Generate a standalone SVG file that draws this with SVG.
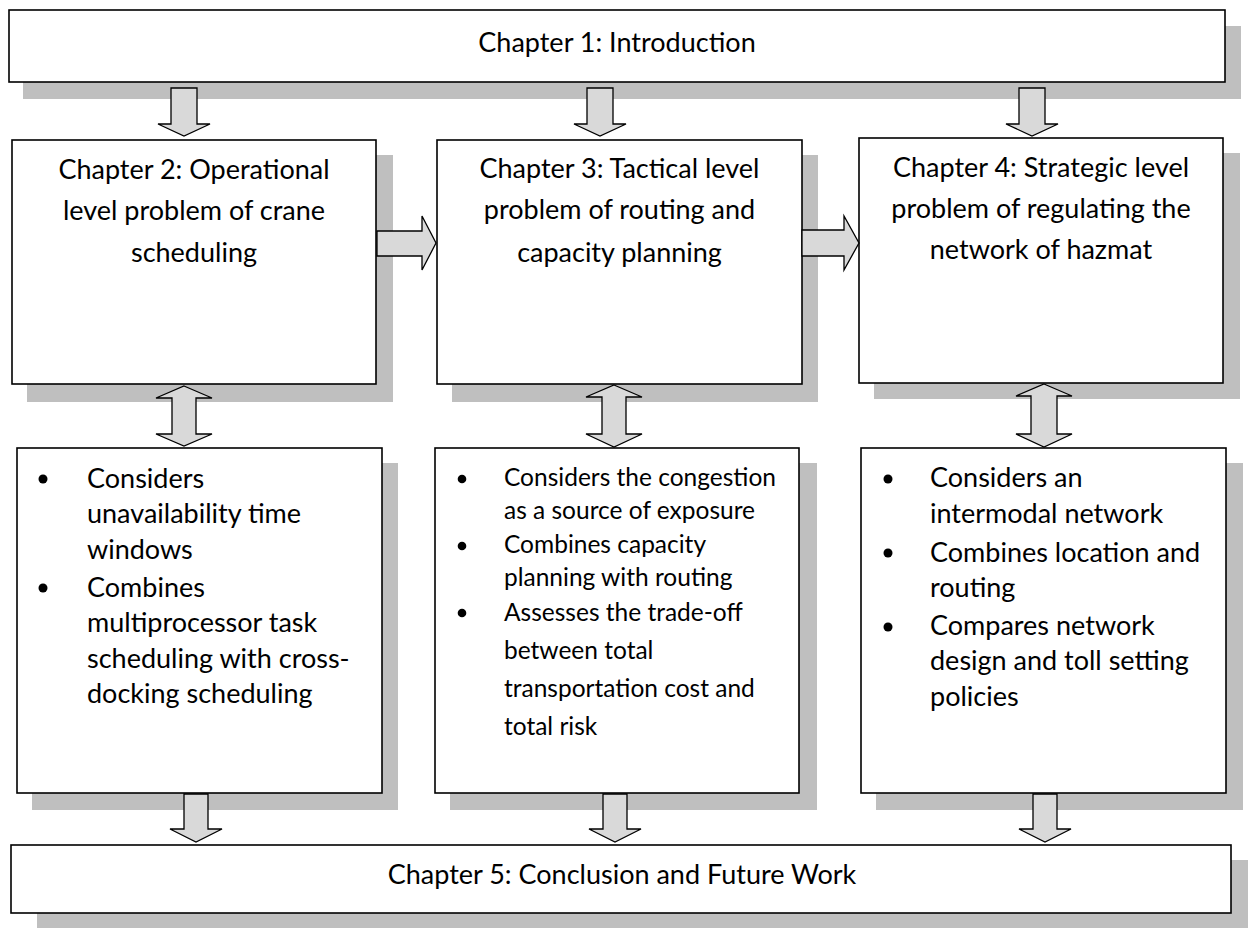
<svg xmlns="http://www.w3.org/2000/svg" width="1250" height="931" viewBox="0 0 1250 931">
  <style>
    .shadow { fill: #bfbfbf; }
    .box { fill: #ffffff; stroke: #000000; stroke-width: 1.6; }
    .arrow { fill: #d9d9d9; stroke: #000000; stroke-width: 1.3; stroke-linejoin: miter; }
    .title { font-family: Lato, "Liberation Sans", sans-serif; font-size: 27px; fill: #000; text-anchor: middle; }
    .item { font-family: Lato, "Liberation Sans", sans-serif; font-size: 27px; fill: #000; }
    .item-sm { font-family: Lato, "Liberation Sans", sans-serif; font-size: 24.5px; fill: #000; }
    .dot { fill: #000; }
  </style>
  <rect width="1250" height="931" fill="#ffffff"/>

  <!-- Chapter 1 -->
  <g id="ch1">
    <rect class="shadow" x="23" y="26" width="1218" height="73"/>
    <rect class="box" x="9" y="10" width="1216" height="72"/>
    <text class="title" x="617" y="52">Chapter 1: Introduction</text>
  </g>

  <!-- Chapter 2 -->
  <g id="ch2">
    <rect class="shadow" x="27" y="155" width="366" height="247"/>
    <rect class="box" x="12" y="140" width="364" height="244"/>
    <text class="title" x="194" y="179">Chapter 2: Operational</text>
    <text class="title" x="194" y="220">level problem of crane</text>
    <text class="title" x="194" y="262">scheduling</text>
  </g>

  <!-- Chapter 3 -->
  <g id="ch3">
    <rect class="shadow" x="452" y="155" width="366" height="247"/>
    <rect class="box" x="437" y="140" width="365" height="244"/>
    <text class="title" x="619.5" y="178">Chapter 3: Tactical level</text>
    <text class="title" x="619.5" y="219">problem of routing and</text>
    <text class="title" x="619.5" y="262">capacity planning</text>
  </g>

  <!-- Chapter 4 -->
  <g id="ch4">
    <rect class="shadow" x="874" y="153" width="366" height="246"/>
    <rect class="box" x="859" y="138" width="364" height="245"/>
    <text class="title" x="1041" y="177">Chapter 4: Strategic level</text>
    <text class="title" x="1041" y="218">problem of regulating the</text>
    <text class="title" x="1041" y="259">network of hazmat</text>
  </g>

  <!-- Chapter 2 contributions -->
  <g id="ch2-points">
    <rect class="shadow" x="32" y="463" width="366" height="347"/>
    <rect class="box" x="17" y="448" width="365" height="345"/>
    <circle class="dot" cx="43" cy="479" r="4.5"/>
    <circle class="dot" cx="43" cy="588" r="4.5"/>
    <text class="item" x="87" y="488">Considers</text>
    <text class="item" x="87" y="523">unavailability time</text>
    <text class="item" x="87" y="559">windows</text>
    <text class="item" x="87" y="597">Combines</text>
    <text class="item" x="87" y="632">multiprocessor task</text>
    <text class="item" x="87" y="668">scheduling with cross-</text>
    <text class="item" x="87" y="703">docking scheduling</text>
  </g>

  <!-- Chapter 3 contributions -->
  <g id="ch3-points">
    <rect class="shadow" x="450" y="463" width="367" height="347"/>
    <rect class="box" x="435" y="448" width="364" height="345"/>
    <circle class="dot" cx="462" cy="479" r="4.3"/>
    <circle class="dot" cx="462" cy="546" r="4.3"/>
    <circle class="dot" cx="462" cy="613" r="4.3"/>
    <text class="item-sm" x="504" y="486">Considers the congestion</text>
    <text class="item-sm" x="504" y="519">as a source of exposure</text>
    <text class="item-sm" x="504" y="553">Combines capacity</text>
    <text class="item-sm" x="504" y="586">planning with routing</text>
    <text class="item-sm" x="504" y="621">Assesses the trade-off</text>
    <text class="item-sm" x="504" y="659">between total</text>
    <text class="item-sm" x="504" y="697">transportation cost and</text>
    <text class="item-sm" x="504" y="735">total risk</text>
  </g>

  <!-- Chapter 4 contributions -->
  <g id="ch4-points">
    <rect class="shadow" x="876" y="463" width="367" height="347"/>
    <rect class="box" x="861" y="448" width="365" height="345"/>
    <circle class="dot" cx="888" cy="479" r="4.5"/>
    <circle class="dot" cx="888" cy="553" r="4.5"/>
    <circle class="dot" cx="888" cy="627" r="4.5"/>
    <text class="item" x="930" y="487">Considers an</text>
    <text class="item" x="930" y="523">intermodal network</text>
    <text class="item" x="930" y="562">Combines location and</text>
    <text class="item" x="930" y="597">routing</text>
    <text class="item" x="930" y="635">Compares network</text>
    <text class="item" x="930" y="670">design and toll setting</text>
    <text class="item" x="930" y="706">policies</text>
  </g>

  <!-- Chapter 5 -->
  <g id="ch5">
    <rect class="shadow" x="37" y="860" width="1211" height="68"/>
    <rect class="box" x="11" y="845" width="1220" height="68"/>
    <text class="title" x="622" y="884">Chapter 5: Conclusion and Future Work</text>
  </g>

  <!-- Block arrows between chapters -->
  <g id="connectors">
    <!-- Chapter 1 down to chapters 2, 3, 4 -->
    <path class="arrow" d="M171,88 H197 V124 H210 L184,136 L158,124 H171 Z"/>
    <path class="arrow" d="M587,88 H613 V124 H626 L600,136 L574,124 H587 Z"/>
    <path class="arrow" d="M1019,88 H1045 V124 H1058 L1032,136 L1006,124 H1019 Z"/>
    <!-- Chapter 2 to 3, chapter 3 to 4 -->
    <path class="arrow" d="M377,231 H422 V216 L436,243 L422,270 V256 H377 Z"/>
    <path class="arrow" d="M802,230 H844 V216 L859,243 L844,270 V256 H802 Z"/>
    <!-- Chapters to their contribution lists -->
    <path class="arrow" d="M184,386 L212,398 H196 V434 H212 L184,446 L156,434 H172 V398 H156 Z"/>
    <path class="arrow" d="M614,385 L642,397 H626 V434 H642 L614,447 L586,434 H602 V397 H586 Z"/>
    <path class="arrow" d="M1044,384 L1072,396 H1057 V434 H1072 L1044,447 L1016,434 H1031 V396 H1016 Z"/>
    <!-- Contribution lists down to chapter 5 -->
    <path class="arrow" d="M184,794 H208 V829 H222 L196,842 L170,829 H184 Z"/>
    <path class="arrow" d="M603,794 H627 V829 H641 L615,842 L589,829 H603 Z"/>
    <path class="arrow" d="M1033,794 H1057 V829 H1071 L1045,842 L1019,829 H1033 Z"/>
  </g>
</svg>
